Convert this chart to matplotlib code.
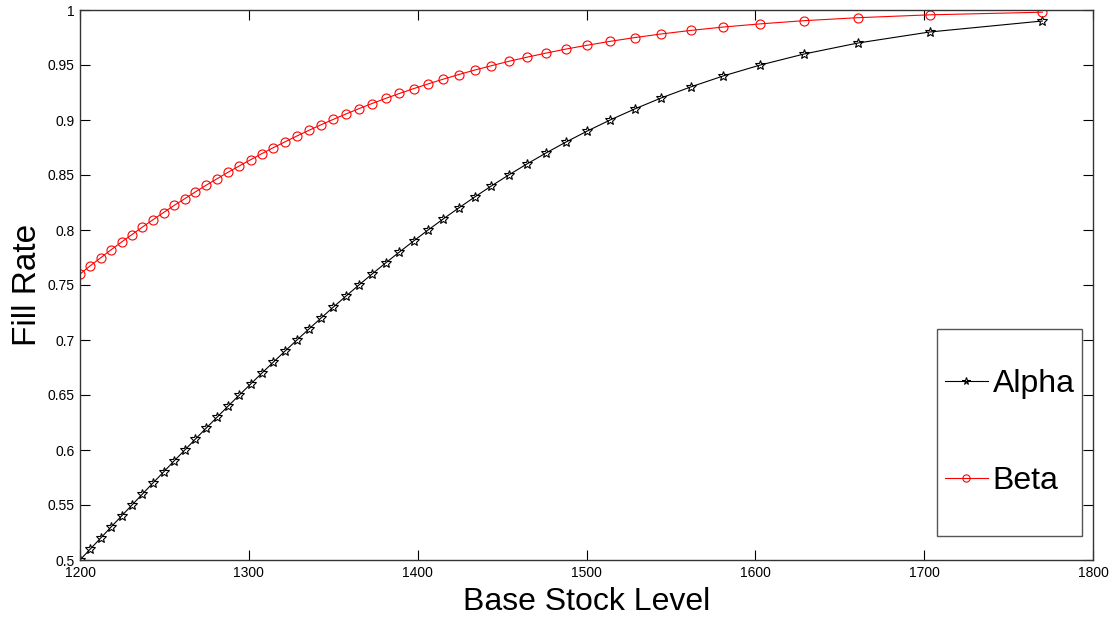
import matplotlib
matplotlib.use('Agg')
import matplotlib.pyplot as plt
from matplotlib.patches import Rectangle

plt.rcParams['font.family'] = ['Liberation Sans', 'DejaVu Sans']

# base stock levels (one point per alpha step)
base_stock = [1200.0, 1206.1, 1212.3, 1218.4, 1224.6, 1230.8, 1237.0, 1243.2, 1249.5, 1255.7,
              1262.1, 1268.4, 1274.8, 1281.3, 1287.8, 1294.4, 1301.1, 1307.8, 1314.6, 1321.5,
              1328.5, 1335.6, 1342.8, 1350.1, 1357.6, 1365.2, 1373.0, 1381.0, 1389.2, 1397.6,
              1406.2, 1415.1, 1424.3, 1433.8, 1443.6, 1453.9, 1464.7, 1476.0, 1487.9, 1500.5,
              1514.0, 1528.5, 1544.2, 1561.6, 1580.9, 1603.0, 1628.9, 1660.8, 1703.2, 1770.0]

alpha = [0.50, 0.51, 0.52, 0.53, 0.54, 0.55, 0.56, 0.57, 0.58, 0.59,
         0.60, 0.61, 0.62, 0.63, 0.64, 0.65, 0.66, 0.67, 0.68, 0.69,
         0.70, 0.71, 0.72, 0.73, 0.74, 0.75, 0.76, 0.77, 0.78, 0.79,
         0.80, 0.81, 0.82, 0.83, 0.84, 0.85, 0.86, 0.87, 0.88, 0.89,
         0.90, 0.91, 0.92, 0.93, 0.94, 0.95, 0.96, 0.97, 0.98, 0.99]

beta = [0.7600, 0.7675, 0.7748, 0.7820, 0.7890, 0.7959, 0.8027, 0.8093, 0.8159, 0.8223,
        0.8285, 0.8347, 0.8408, 0.8467, 0.8526, 0.8583, 0.8639, 0.8695, 0.8749, 0.8802,
        0.8855, 0.8906, 0.8957, 0.9006, 0.9055, 0.9103, 0.9150, 0.9196, 0.9241, 0.9285,
        0.9328, 0.9371, 0.9413, 0.9454, 0.9493, 0.9533, 0.9571, 0.9608, 0.9645, 0.9680,
        0.9715, 0.9749, 0.9782, 0.9814, 0.9845, 0.9874, 0.9903, 0.9930, 0.9956, 0.9980]

xticks = [1200, 1300, 1400, 1500, 1600, 1700, 1800]
yticks = [0.5, 0.55, 0.6, 0.65, 0.7, 0.75, 0.8, 0.85, 0.9, 0.95, 1]
ytick_labels = ['0.5', '0.55', '0.6', '0.65', '0.7', '0.75', '0.8', '0.85', '0.9', '0.95', '1']

fig = plt.figure(figsize=(11.12, 6.17), dpi=100)
ax = fig.add_axes([80/1112, 1 - 560/617, 1013/1112, 550/617])

la, = ax.plot(base_stock, alpha, color='black', lw=0.8, marker='*', ms=7,
              mfc='none', mec='black', mew=0.8, label='Alpha')
lb, = ax.plot(base_stock, beta, color='red', lw=0.8, marker='o', ms=6.5,
              mfc='none', mec='red', mew=0.8, label='Beta')

ax.set_xlim(1200, 1800)
ax.set_ylim(0.5, 1)
ax.set_xticks(xticks)
ax.set_yticks(yticks)
ax.set_yticklabels(ytick_labels)
ax.tick_params(direction='in', length=7, width=0.8, top=True, right=True,
               labelsize=10, pad=4)
for s in ax.spines.values():
    s.set_linewidth(1.0)
    s.set_color('#333333')

ax.set_xlabel('Base Stock Level', fontsize=23, labelpad=5)
ax.set_ylabel('Fill Rate', fontsize=24, labelpad=3)

# legend box drawn by hand so it can be tall like the original
box_l, box_r, box_t, box_b = 937, 1082, 329, 536
x0 = (box_l - 80) / 1013
y0 = (560 - box_b) / 550
w = (box_r - box_l) / 1013
h = (box_b - box_t) / 550
ax.add_patch(Rectangle((x0, y0), w, h, transform=ax.transAxes, fill=True,
                       facecolor='white', edgecolor='#555555', lw=1.0, zorder=5))
leg = ax.legend(handles=[la, lb], loc='center', bbox_to_anchor=(x0 + w/2, y0 + h/2),
                bbox_transform=ax.transAxes, frameon=False, fontsize=23,
                labelspacing=2.1, handlelength=1.35, handletextpad=0.15,
                borderpad=0.2, markerscale=0.8)
leg.set_zorder(6)

fig.savefig('out.png', dpi=100)
